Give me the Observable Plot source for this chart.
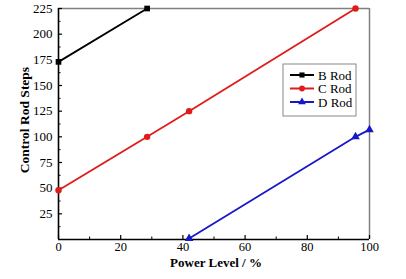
<!DOCTYPE html>
<html>
<head>
<meta charset="utf-8">
<script src="https://cdn.jsdelivr.net/npm/d3@7"></script>
<script src="https://cdn.jsdelivr.net/npm/@observablehq/plot@0.6"></script>
<style>
  html, body { margin: 0; padding: 0; background: #fff; }
  #chart { position: relative; width: 406px; height: 279px; }
  #chart svg text { font-family: "Liberation Serif", "Times New Roman", serif; }
</style>
</head>
<body>
<div id="chart"></div>
<script>
// ---- data ----
const bPower = [0, 28.5];
const bSteps = [173, 225];
const cPower = [0, 28.5, 42, 95.5];
const cSteps = [48, 100, 125, 225];
const dPower = [42, 95.5, 100];
const dSteps = [1, 100, 107];

const seriesNames = ["B Rod", "C Rod", "D Rod"];
const seriesColors = ["#000000", "#e01b1b", "#1818c8"];
const seriesSymbols = ["square", "circle", "triangle"];

const xTicks = [0, 20, 40, 60, 80, 100];
const xMinorTicks = [10, 30, 50, 70, 90];
const yTicks = [25, 50, 75, 100, 125, 150, 175, 200, 225];
const yMinorTicks = [12.5, 37.5, 62.5, 87.5, 112.5, 137.5, 162.5, 187.5, 212.5];

const xLabel = "Power Level / %";
const yLabel = "Control Rod Steps";

// build table
const rows = [];
[[bPower, bSteps], [cPower, cSteps], [dPower, dSteps]].forEach(([xs, ys], i) => {
  xs.forEach((x, j) => rows.push({series: seriesNames[i], power: x, steps: ys[j]}));
});

const font = "Liberation Serif";

const chart = Plot.plot({
  width: 406,
  height: 279,
  marginLeft: 58,
  marginRight: 37,
  marginTop: 8,
  marginBottom: 40,
  style: {fontFamily: "Liberation Serif, serif", fontSize: "13px", color: "#000", background: "#fff"},
  x: {domain: [0, 100]},
  y: {domain: [0, 225]},
  color: {domain: seriesNames, range: seriesColors},
  symbol: {domain: seriesNames, range: seriesSymbols},
  marks: [
    // frame: gray top/right, black left/bottom
    Plot.ruleY([225], {stroke: "#808080", strokeWidth: 1.5}),
    Plot.ruleX([100], {stroke: "#808080", strokeWidth: 1.5}),
    // axes labels
    Plot.axisX(xTicks, {tickSize: 0, tickPadding: 3, label: null, fontSize: 12.5, fontFamily: font}),
    Plot.axisY(yTicks, {tickSize: 0, tickPadding: 6, label: null, fontSize: 13, fontFamily: font}),
    // inward ticks
    Plot.axisX(xTicks, {tickSize: -4, tickFormat: () => "", label: null, strokeWidth: 1.2}),
    Plot.axisX(xMinorTicks, {tickSize: -2.5, tickFormat: () => "", label: null}),
    Plot.axisY(yTicks, {tickSize: -4, tickFormat: () => "", label: null, strokeWidth: 1.2}),
    Plot.axisY(yMinorTicks, {tickSize: -2.5, tickFormat: () => "", label: null}),
    Plot.ruleX([0], {stroke: "#000", strokeWidth: 1.6}),
    Plot.ruleY([0], {stroke: "#000", strokeWidth: 1.6}),
    // data
    Plot.line(rows, {x: "power", y: "steps", z: "series", stroke: "series", strokeWidth: 1.8}),
    Plot.dot(rows, {x: "power", y: "steps", symbol: "series", fill: "series", stroke: "none", r: 3.2}),
  ]
});

const svg = d3.select(chart);

// axis titles
svg.append("text")
  .attr("x", 216).attr("y", 267)
  .attr("text-anchor", "middle")
  .attr("font-family", font).attr("font-size", 13).attr("font-weight", "bold")
  .attr("fill", "#000")
  .text(xLabel);
svg.append("text")
  .attr("transform", "translate(29,120) rotate(-90)")
  .attr("text-anchor", "middle")
  .attr("font-family", font).attr("font-size", 13.5).attr("font-weight", "bold")
  .attr("fill", "#000")
  .text(yLabel);

// legend
const lg = svg.append("g").attr("transform", "translate(283,64)");
lg.append("rect").attr("width", 73).attr("height", 52)
  .attr("fill", "#fff").attr("stroke", "#888").attr("stroke-width", 1);
seriesNames.forEach((name, i) => {
  const y = 11 + i * 13.5;
  lg.append("line").attr("x1", 7).attr("x2", 31).attr("y1", y).attr("y2", y)
    .attr("stroke", seriesColors[i]).attr("stroke-width", 2);
  const sym = d3.symbol().type(
    seriesSymbols[i] === "square" ? d3.symbolSquare :
    seriesSymbols[i] === "circle" ? d3.symbolCircle : d3.symbolTriangle
  ).size(26);
  lg.append("path").attr("d", sym()).attr("transform", `translate(19,${y})`)
    .attr("fill", seriesColors[i]);
  lg.append("text").attr("x", 35).attr("y", y + 4.5)
    .attr("text-anchor", "start")
    .attr("font-family", font).attr("font-size", 13).attr("fill", "#000")
    .text(name);
});

document.getElementById("chart").appendChild(chart);
</script>
</body>
</html>
